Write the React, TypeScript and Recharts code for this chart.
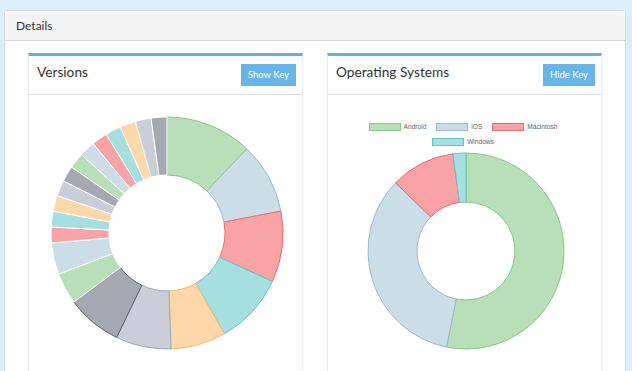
import { PieChart, Pie, Cell } from 'recharts';

const versionNames = [
  '5.2.1', '5.2.0', '5.1.4', '5.1.3', '5.1.2', '5.1.0', '5.0.9',
  '5.0.8', '5.0.7', '5.0.6', '5.0.5', '5.0.4', '5.0.3', '5.0.2',
  '5.0.1', '5.0.0', '4.9.8', '4.9.7', '4.9.5', '4.9.2', '4.9.0',
];
const versionCounts = [11, 9, 9, 9, 7, 7, 7, 4, 4, 2, 2, 2, 2, 2, 2, 2, 2, 2, 2, 2, 2];

const osNames = ['Android', 'iOS', 'Macintosh', 'Windows'];
const osCounts = [1250, 800, 250, 50];

const fills = ['#b9dfb9', '#cbdde7', '#faa3a7', '#a5dfdf', '#ffd8aa', '#c9ced9', '#a5a8b1'];
const borders = ['#86c786', '#9dbbcc', '#f26a73', '#62c6c6', '#ffb868', '#9ea6b8', '#5d616d'];

const versionData = versionNames.map((name, i) => ({ name, value: versionCounts[i] }));
const osData = osNames.map((name, i) => ({ name, value: osCounts[i] }));

const FONT = 'Lato, "Open Sans", sans-serif';
const noMargin = { top: 0, right: 0, bottom: 0, left: 0 };

function Card({ left, title, button }: { left: number; title: string; button: string }) {
  return (
    <div
      style={{
        position: 'absolute',
        left,
        top: 53,
        width: 275,
        height: 330,
        background: '#fff',
        borderTop: '3px solid #62aee6',
        borderLeft: '1px solid #ececec',
        borderRight: '1px solid #ececec',
        boxShadow: '0 1px 2px rgba(0,0,0,0.06)',
        boxSizing: 'border-box',
      }}
    >
      <div style={{ height: 38, borderBottom: '1px solid #dedede', position: 'relative' }}>
        <div style={{ position: 'absolute', left: 8, top: 7, fontSize: 13.7, color: '#333' }}>{title}</div>
        <div
          style={{
            position: 'absolute',
            right: 6,
            top: 8,
            height: 22,
            padding: '0 7px',
            background: '#69b4e8',
            color: '#fff',
            fontSize: 9.5,
            lineHeight: '22px',
          }}
        >
          {button}
        </div>
      </div>
    </div>
  );
}

export default function App() {
  return (
    <div
      style={{
        position: 'absolute',
        left: 0,
        top: 0,
        width: 632,
        height: 371,
        overflow: 'hidden',
        background: '#dcedfb',
        fontFamily: FONT,
      }}
    >
      <div
        style={{
          position: 'absolute',
          left: 4,
          top: 10,
          width: 622,
          height: 380,
          background: '#fff',
          border: '1px solid #dadada',
          borderRadius: 3,
          boxSizing: 'border-box',
        }}
      >
        <div
          style={{
            height: 30,
            background: '#f4f4f4',
            borderBottom: '1px solid #dadada',
            boxSizing: 'border-box',
            paddingLeft: 11,
            lineHeight: '29px',
            fontSize: 12,
            color: '#333',
          }}
        >
          Details
        </div>
      </div>

      <Card left={28} title="Versions" button="Show Key" />
      <Card left={327} title="Operating Systems" button="Hide Key" />

      <div style={{ position: 'absolute', left: 28, top: 95 }}>
        <PieChart width={275} height={276} margin={noMargin}>
          <Pie
            data={versionData}
            dataKey="value"
            nameKey="name"
            cx={139}
            cy={138}
            innerRadius={58}
            outerRadius={116}
            startAngle={90}
            endAngle={-270}
            strokeWidth={1}
            isAnimationActive={false}
          >
            {versionData.map((d, i) => (
              <Cell key={d.name} fill={fills[i % 7]} stroke={i < 7 ? borders[i] : '#ffffff'} />
            ))}
          </Pie>
        </PieChart>
      </div>

      <div style={{ position: 'absolute', left: 327, top: 95 }}>
        <PieChart width={276} height={276} margin={noMargin}>
          <Pie
            data={osData}
            dataKey="value"
            nameKey="name"
            cx={139}
            cy={156}
            innerRadius={49}
            outerRadius={98}
            startAngle={90}
            endAngle={-270}
            strokeWidth={1}
            isAnimationActive={false}
          >
            {osData.map((d, i) => (
              <Cell key={d.name} fill={fills[i]} stroke={borders[i]} />
            ))}
          </Pie>
        </PieChart>
        <div
          style={{
            position: 'absolute',
            left: 41,
            top: 24,
            width: 200,
            display: 'flex',
            flexWrap: 'wrap',
            justifyContent: 'center',
            fontFamily: '"Liberation Sans", Arial, sans-serif',
            fontSize: 6.6,
            color: '#666',
          }}
        >
          {osNames.map((name, i) => (
            <div key={name} style={{ display: 'flex', alignItems: 'center', height: 15, marginRight: 10 }}>
              <div
                style={{
                  width: 32,
                  height: 8,
                  boxSizing: 'border-box',
                  background: fills[i],
                  border: `1px solid ${borders[i]}`,
                  marginRight: 3,
                }}
              />
              {name}
            </div>
          ))}
        </div>
      </div>
    </div>
  );
}
